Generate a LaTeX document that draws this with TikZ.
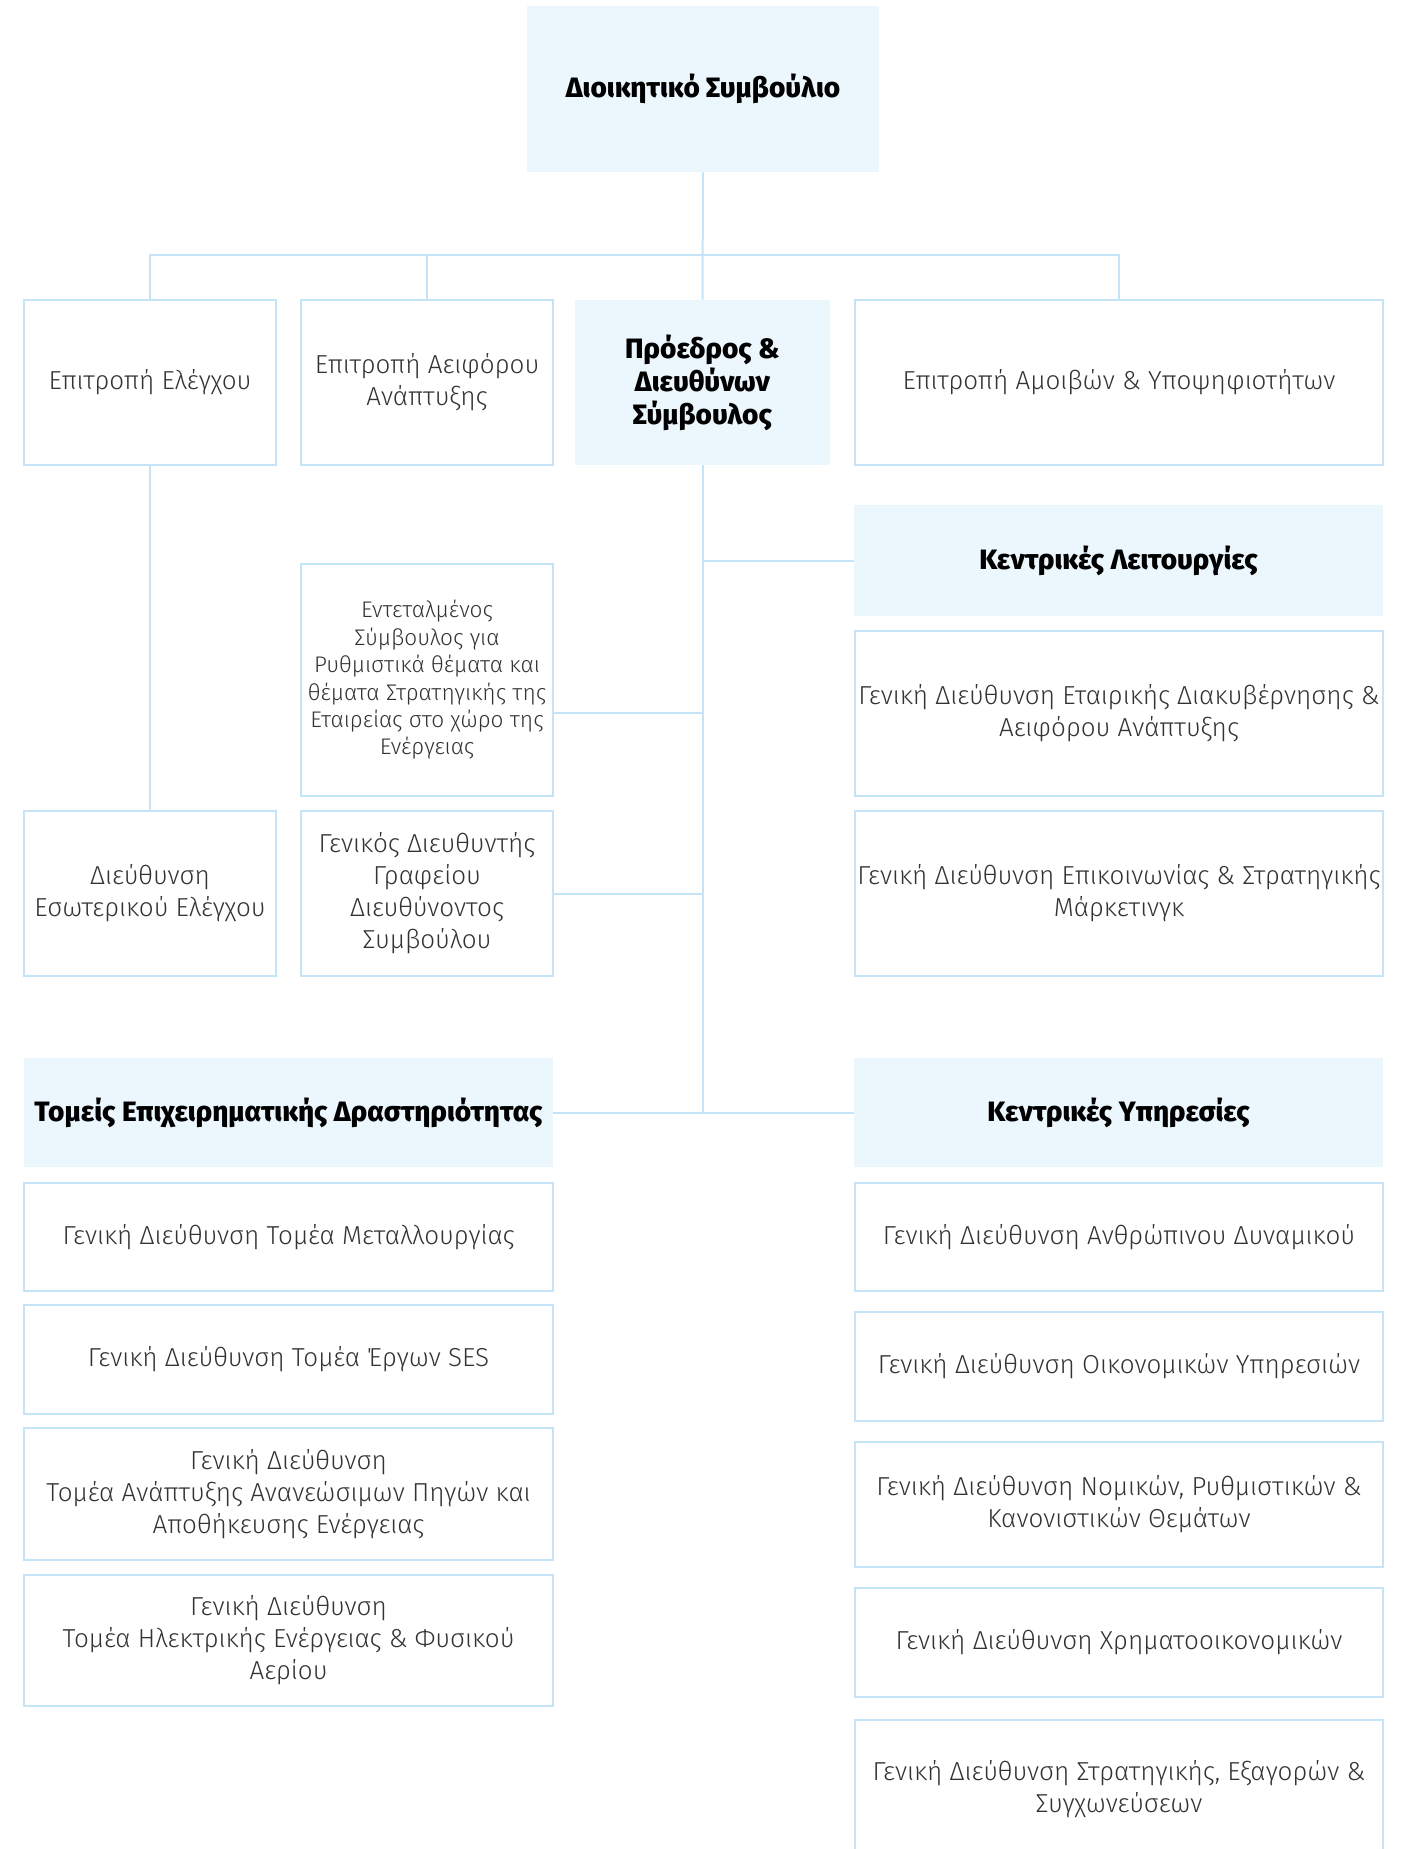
\documentclass[tikz,border=0pt]{standalone}
\usepackage{fontspec}
\setmainfont{Fira Sans}[UprightFont=* Light, BoldFont=* ExtraBold]
\usetikzlibrary{positioning}
\definecolor{orgfill}{RGB}{235,246,253}
\definecolor{orgline}{RGB}{197,228,247}
\definecolor{orgtext}{RGB}{51,51,51}
\newcommand{\orgbox}[7]{%
  \pgfmathsetmacro{\bw}{(#5-#3)/2}\pgfmathsetmacro{\bh}{(#6-#4)/2}%
  \node[#2, minimum width=\bw pt, minimum height=\bh pt] (#1)
    at ({(#3+#5)/2},{(#4+#6)/2}) {#7};}
\tikzset{
  ubox/.style={draw=orgline, line width=1pt, fill=white, inner sep=0pt, align=center,
    text=orgtext, font=\fontsize{13}{16}\selectfont},
  hbox/.style={fill=orgfill, inner sep=0pt, align=center, text=black,
    font=\fontsize{14}{16.5}\selectfont\bfseries},
  tight/.style={font=\fontsize{11.3}{13.7}\selectfont},
  lnk/.style={draw=orgline, line width=1pt},
}

\begin{document}
\begin{tikzpicture}[x=0.5pt, y=-0.5pt]
\useasboundingbox (0,0) rectangle (1408,1849);
\orgbox{board}{hbox}{527}{6}{879}{172}{Διοικητικό Συμβούλιο}
\orgbox{audit}{ubox}{24}{300}{276}{465}{Επιτροπή Ελέγχου}
\orgbox{sust}{ubox}{301}{300}{553}{465}{Επιτροπή Αειφόρου\\Ανάπτυξης}
\orgbox{ceo}{hbox}{575}{300}{830}{465}{Πρόεδρος \&\\Διευθύνων\\Σύμβουλος}
\orgbox{remun}{ubox}{855}{300}{1383}{465}{Επιτροπή Αμοιβών \& Υποψηφιοτήτων}
\orgbox{centralfn}{hbox}{854}{505}{1383}{616}{Κεντρικές Λειτουργίες}
\orgbox{deleg}{ubox,tight}{301}{564}{553}{796}{Εντεταλμένος\\Σύμβουλος για\\Ρυθμιστικά θέματα και\\θέματα Στρατηγικής της\\Εταιρείας στο χώρο της\\Ενέργειας}
\orgbox{corpgov}{ubox}{855}{631}{1383}{796}{Γενική Διεύθυνση Εταιρικής Διακυβέρνησης \&\\Αειφόρου Ανάπτυξης}
\orgbox{intaudit}{ubox}{24}{811}{276}{976}{Διεύθυνση\\Εσωτερικού Ελέγχου}
\orgbox{gmoffice}{ubox}{301}{811}{553}{976}{Γενικός Διευθυντής\\Γραφείου\\Διευθύνοντος\\Συμβούλου}
\orgbox{comms}{ubox}{855}{811}{1383}{976}{Γενική Διεύθυνση Επικοινωνίας \& Στρατηγικής\\Μάρκετινγκ}
\orgbox{bizhead}{hbox}{24}{1058}{553}{1167}{Τομείς Επιχειρηματικής Δραστηριότητας}
\orgbox{servhead}{hbox}{854}{1058}{1383}{1167}{Κεντρικές Υπηρεσίες}
\orgbox{metal}{ubox}{24}{1183}{553}{1291}{Γενική Διεύθυνση Τομέα Μεταλλουργίας}
\orgbox{ses}{ubox}{24}{1305}{553}{1414}{Γενική Διεύθυνση Τομέα Έργων SES}
\orgbox{renew}{ubox}{24}{1428}{553}{1560}{Γενική Διεύθυνση\\Τομέα Ανάπτυξης Ανανεώσιμων Πηγών και\\Αποθήκευσης Ενέργειας}
\orgbox{power}{ubox}{24}{1575}{553}{1706}{Γενική Διεύθυνση\\Τομέα Ηλεκτρικής Ενέργειας \& Φυσικού\\Αερίου}
\orgbox{hr}{ubox}{855}{1183}{1383}{1291}{Γενική Διεύθυνση Ανθρώπινου Δυναμικού}
\orgbox{finserv}{ubox}{855}{1312}{1383}{1421}{Γενική Διεύθυνση Οικονομικών Υπηρεσιών}
\orgbox{legal}{ubox}{855}{1442}{1383}{1567}{Γενική Διεύθυνση Νομικών, Ρυθμιστικών \&\\Κανονιστικών Θεμάτων}
\orgbox{treasury}{ubox}{855}{1588}{1383}{1697}{Γενική Διεύθυνση Χρηματοοικονομικών}
\orgbox{strategy}{ubox}{855}{1720}{1383}{1858}{Γενική Διεύθυνση Στρατηγικής, Εξαγορών \&\\Συγχωνεύσεων}
\coordinate (bus) at (703,255);
\coordinate (trunk) at (ceo.south |- bizhead.east);
\draw[lnk] (board) -- (ceo);
\draw[lnk] (audit.north) |- (bus) -| (remun.north);
\draw[lnk] (sust.north) -- (sust.north |- bus);
\draw[lnk] (audit) -- (intaudit);
\draw[lnk] (ceo.south) -- (trunk);
\draw[lnk] (bizhead.east) -- (servhead.west);
\draw[lnk] (centralfn.west) -- (centralfn.west -| trunk);
\draw[lnk] ([yshift=-16.5pt]deleg.east) -- ([yshift=-16.5pt]deleg.east -| trunk);
\draw[lnk] (gmoffice.east) -- (gmoffice.east -| trunk);
\end{tikzpicture}
\end{document}
